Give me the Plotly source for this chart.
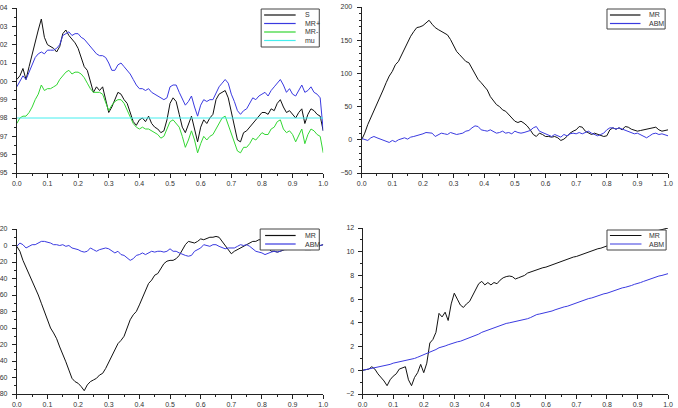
import numpy as np
import plotly.graph_objects as go

T = np.linspace(0, 1, 101)

S = [100.1, 100.3, 100.7, 100.1, 100.8, 101.5, 102.2, 102.8, 103.4, 102.4,
     102.0, 101.9, 101.8, 101.6, 101.9, 102.6, 102.8, 102.5, 102.3, 102.1,
     101.8, 101.3, 100.8, 100.6, 100.0, 99.4, 99.7, 99.5, 99.7, 99.0,
     98.3, 98.6, 99.0, 99.4, 99.3, 99.0, 98.8, 98.3, 97.8, 97.6,
     97.9, 98.0, 97.8, 98.1, 97.7, 97.5, 97.4, 97.2, 97.3, 97.9,
     98.8, 99.1, 98.9, 98.2, 97.5, 97.2, 97.6, 98.1, 97.4, 96.7,
     97.5, 97.9, 97.7, 98.0, 98.2, 99.0, 99.3, 99.4, 99.5, 99.1,
     98.3, 97.5, 96.8, 96.7, 97.2, 97.3, 97.5, 97.7, 97.9, 98.1,
     98.3, 98.3, 98.2, 98.5, 98.4, 98.8, 99.0, 98.6, 98.3, 98.4,
     98.2, 98.0, 98.3, 98.5, 97.7, 98.2, 98.5, 98.4, 98.2, 98.1,
     97.3]
MR_PLUS = [99.7, 100.0, 100.3, 100.1, 100.5, 100.9, 101.3, 101.5, 101.6, 101.5,
           101.7, 101.7, 101.7, 101.8, 102.0, 102.5, 102.6, 102.7, 102.5, 102.6,
           102.6, 102.4, 102.3, 102.1, 101.9, 101.7, 101.5, 101.4, 101.4, 101.3,
           101.0, 100.6, 100.6, 100.9, 101.0, 100.8, 100.6, 100.4, 100.1, 99.8,
           99.6, 99.6, 99.5, 99.6, 99.4, 99.3, 99.2, 99.1, 99.0, 99.1,
           99.7, 99.8, 99.8, 99.4, 99.0, 98.7, 98.9, 99.2, 98.6, 98.1,
           98.7, 99.0, 98.9, 99.0, 99.0, 99.4, 99.7, 99.9, 100.1, 99.9,
           99.3, 98.9, 98.4, 98.2, 98.4, 98.5, 98.8, 99.1, 99.0, 99.2,
           99.3, 99.4, 99.2, 99.5, 99.7, 99.9, 100.1, 99.8, 99.4, 99.6,
           99.3, 99.2, 99.5, 99.8, 99.4, 99.5, 99.7, 99.4, 99.3, 99.1,
           97.3]
MR_MINUS = [97.7, 98.0, 98.1, 98.1, 98.3, 98.6, 99.0, 99.3, 99.8, 99.5,
            99.6, 99.6, 99.7, 99.8, 100.1, 100.3, 100.5, 100.6, 100.4, 100.5,
            100.5, 100.4, 100.2, 99.9, 99.6, 99.4, 99.4, 99.4, 99.3, 98.9,
            98.4, 98.7, 98.9, 99.0, 99.0, 98.8, 98.4, 98.1, 97.7, 97.5,
            97.4, 97.5, 97.4, 97.4, 97.3, 97.2, 97.1, 96.9, 97.0, 97.4,
            97.8, 97.9, 97.7, 97.5, 97.0, 96.4, 96.8, 97.3, 96.8, 96.1,
            96.6, 97.0, 96.8, 97.0, 97.1, 97.4, 97.7, 98.0, 98.1, 97.6,
            97.2, 96.7, 96.2, 96.1, 96.4, 96.4, 96.6, 96.9, 96.8, 97.0,
            97.2, 97.1, 97.1, 97.4, 97.5, 97.8, 97.9, 97.4, 97.2, 97.3,
            97.1, 96.7, 97.1, 97.4, 96.6, 97.1, 97.4, 97.3, 97.1, 97.0,
            96.1]
MU_T = [0.0, 1.0]
MU = [98.0, 98.0]

MR2 = [0, 10, 23, 33, 43, 55, 65, 75, 86, 96,
       103, 113, 118, 128, 138, 148, 156, 163, 169, 170,
       172, 176, 180, 174, 169, 166, 163, 161, 158, 151,
       143, 133, 128, 123, 118, 116, 108, 98, 91, 86,
       80, 75, 65, 58, 53, 50, 45, 43, 38, 33,
       28, 26, 28, 25, 21, 15, 8, 5, 10, 8,
       5, 5, 4, 5, 3, -1, 1, 5, 10, 13,
       15, 20, 19, 13, 11, 8, 10, 8, 6, 5,
       6, 15, 18, 16, 18, 15, 20, 19, 16, 14,
       13, 14, 15, 15, 16, 18, 19, 15, 13, 14,
       15]
ABM2 = [2, 0, -1, 3, 5, 3, 1, 0, -3, -4,
        -1, -3, 0, 1, 3, 1, 4, 5, 6, 8,
        9, 11, 10, 10, 5, 8, 10, 9, 8, 11,
        9, 8, 9, 10, 13, 14, 18, 21, 20, 15,
        14, 13, 15, 13, 10, 11, 13, 10, 11, 9,
        13, 11, 10, 11, 13, 14, 18, 20, 13, 11,
        9, 6, 5, 8, 6, 4, 8, 6, 9, 10,
        9, 11, 9, 11, 13, 10, 8, 6, 8, 10,
        15, 18, 18, 16, 18, 16, 14, 13, 11, 9,
        10, 8, 5, 3, 6, 9, 10, 8, 9, 8,
        6]

MR3 = [-1, -7, -18, -26, -34, -42, -52, -60, -70, -80,
       -90, -100, -106, -113, -123, -131, -141, -151, -161, -165,
       -167, -171, -176, -169, -165, -163, -161, -157, -155, -149,
       -141, -133, -125, -119, -115, -110, -100, -90, -84, -80,
       -72, -64, -56, -46, -42, -36, -34, -28, -22, -19,
       -18, -18, -16, -12, -6, 1, 5, 4, 3, 5,
       8, 7, 9, 10, 10, 11, 10, 5, -1, -5,
       -10, -7, -5, -3, -1, 1, 3, 5, 5, 7,
       7, -1, -3, -7, -7, -8, -7, -5, -4, -3,
       -4, -3, -3, -3, -5, -5, -5, -3, -1, 0,
       1]
ABM3 = [-1, 3, 1, -3, -1, 1, 1, 3, 5, 5,
        4, 3, 1, 1, 0, 1, -1, 0, -3, -4,
        -5, -7, -8, -7, -3, -5, -7, -5, -4, -3,
        -4, -7, -9, -7, -11, -12, -15, -18, -16, -12,
        -11, -9, -11, -9, -7, -8, -7, -7, -8, -7,
        -4, -7, -7, -9, -11, -12, -13, -12, -7, -5,
        -3, 1, 0, -1, 1, 1, -1, -3, -4, -3,
        -3, -3, -1, 1, 0, 1, -1, -4, -7, -8,
        -9, -11, -9, -8, -7, -8, -7, -5, -5, -3,
        -3, -3, -1, -3, -1, 0, -1, 0, 1, 0,
        1]

MR4 = [0, 0.05, 0.1, 0.3, 0.1, -0.3, -0.6, -0.9, -1.3, -0.8,
       -0.5, -0.3, 0.1, 0.2, 0.3, -0.8, -1.3, -0.6, -0.2, 0.5,
       -0.2, 0.6, 2.3, 2.6, 3.2, 4.8, 4.5, 4.9, 4.2, 5.6,
       6.5, 6.0, 5.5, 5.3, 5.6, 5.8, 6.3, 6.8, 7.3, 7.5,
       7.2, 7.4, 7.2, 7.4, 7.3, 7.6, 7.8, 7.9, 7.95, 7.9,
       7.7, 7.8, 7.9, 8.0, 8.2, 8.3, 8.4, 8.5, 8.6, 8.65,
       8.7, 8.8, 8.9, 9.0, 9.1, 9.2, 9.3, 9.4, 9.5, 9.55,
       9.6, 9.7, 9.8, 9.9, 10.0, 10.1, 10.2, 10.25, 10.3, 10.4,
       10.5, 10.6, 10.7, 10.8, 10.9, 11.0, 11.05, 11.1, 11.2, 11.3,
       11.35, 11.4, 11.5, 11.55, 11.6, 11.7, 11.75, 11.8, 11.85, 11.9,
       12.0]
ABM4 = [0, 0.05, 0.1, 0.15, 0.2, 0.3, 0.35, 0.4, 0.45, 0.5,
        0.6, 0.65, 0.7, 0.75, 0.8, 0.9, 0.95, 1.0, 1.1, 1.2,
        1.3, 1.4, 1.5, 1.6, 1.75, 1.9, 1.95, 2.05, 2.15, 2.25,
        2.3, 2.4, 2.45, 2.55, 2.6, 2.7, 2.8, 2.95, 3.05, 3.2,
        3.3, 3.4, 3.5, 3.6, 3.7, 3.8, 3.9, 3.95, 4.0, 4.05,
        4.1, 4.15, 4.2, 4.3, 4.35, 4.45, 4.6, 4.7, 4.75, 4.8,
        4.9, 4.95, 5.0, 5.1, 5.2, 5.3, 5.35, 5.4, 5.5, 5.6,
        5.7, 5.8, 5.85, 5.95, 6.05, 6.1, 6.2, 6.25, 6.35, 6.45,
        6.5, 6.6, 6.65, 6.75, 6.85, 6.95, 7.0, 7.05, 7.15, 7.25,
        7.3, 7.4, 7.5, 7.6, 7.65, 7.75, 7.85, 7.95, 8.0, 8.1,
        8.15]

BLACK = "#111111"
BLUE = "#3a3ae0"
GREEN = "#33d633"
CYAN = "#44eeee"

W, H = 678, 408
fig = go.Figure()

def tr(x, y, name, color, xa, ya):
    fig.add_trace(go.Scatter(x=x, y=y, name=name, mode="lines",
                             line=dict(color=color, width=1),
                             xaxis=xa, yaxis=ya, showlegend=False))

tr(T, S, "S", BLACK, "x", "y")
tr(T, MR_PLUS, "MR+", BLUE, "x", "y")
tr(T, MR_MINUS, "MR-", GREEN, "x", "y")
tr(MU_T, MU, "mu", CYAN, "x", "y")
tr(T, MR2, "MR", BLACK, "x2", "y2")
tr(T, ABM2, "ABM", BLUE, "x2", "y2")
tr(T, MR3, "MR", BLACK, "x3", "y3")
tr(T, ABM3, "ABM", BLUE, "x3", "y3")
tr(T, MR4, "MR", BLACK, "x4", "y4")
tr(T, ABM4, "ABM", BLUE, "x4", "y4")

FONT = dict(family="Liberation Sans, Arial, sans-serif", size=7, color="#333333")

def xax(l, r, anchor):
    return dict(domain=[l / W, r / W], anchor=anchor, range=[0, 1],
                dtick=0.1, tick0=0, tickformat=".1f", showgrid=False,
                zeroline=False, showline=True, linecolor="#222", linewidth=1,
                ticks="outside", ticklen=4, tickcolor="#222", tickfont=FONT,
                minor=dict(ticks="outside", ticklen=2, dtick=0.05, tickcolor="#222"))

def yax(t, b, anchor, rng, dt, mdt, stand):
    return dict(domain=[1 - b / H, 1 - t / H], anchor=anchor, range=rng,
                dtick=dt, tick0=0, showgrid=False, zeroline=False,
                showline=True, linecolor="#222", linewidth=1,
                ticks="outside", ticklen=4, tickcolor="#222", tickfont=FONT,
                ticklabelstandoff=stand, automargin=False,
                minor=dict(ticks="outside", ticklen=2, dtick=mdt, tickcolor="#222"))

fig.update_layout(
    width=W, height=H, margin=dict(l=0, r=0, t=0, b=0),
    paper_bgcolor="white", plot_bgcolor="white", showlegend=False,
    xaxis=xax(12, 323, "y"), yaxis=yax(8, 173, "x", [95, 104], 1, 0.5, 3),
    xaxis2=xax(362, 673, "y2"), yaxis2=yax(7, 173, "x2", [-50, 200], 50, 10, 3),
    xaxis3=xax(12, 323, "y3"), yaxis3=yax(229, 394, "x3", [-180, 20], 20, 10, 3),
    xaxis4=xax(363, 673, "y4"), yaxis4=yax(228, 394, "x4", [-2, 12], 2, 1, 2),
)

# hand-drawn compact legends (box, line samples, labels) in pixel layout
LEGENDS = [
    dict(box=(260, 9, 319, 47), lx=(263, 295), tx=302,
         items=[("S", BLACK, 15), ("MR+", BLUE, 23.5), ("MR-", GREEN, 32), ("mu", CYAN, 40.5)]),
    dict(box=(611, 9, 670, 29), lx=(614, 645), tx=652,
         items=[("MR", BLACK, 15), ("ABM", BLUE, 23.5)]),
    dict(box=(259, 229, 319, 250), lx=(264, 295), tx=302,
         items=[("MR", BLACK, 235.5), ("ABM", BLUE, 244)]),
    dict(box=(611, 230, 671, 250), lx=(614, 646), tx=652,
         items=[("MR", BLACK, 235.5), ("ABM", BLUE, 244)]),
]

def px(x):
    return x / W

def py(y):
    return 1 - y / H

for lg in LEGENDS:
    x0, y0, x1, y1 = lg["box"]
    fig.add_shape(type="rect", xref="paper", yref="paper",
                  x0=px(x0), x1=px(x1), y0=py(y1), y1=py(y0),
                  fillcolor="white", line=dict(color="#444", width=1), layer="above")
    for name, col, yy in lg["items"]:
        fig.add_shape(type="line", xref="paper", yref="paper",
                      x0=px(lg["lx"][0]), x1=px(lg["lx"][1]), y0=py(yy), y1=py(yy),
                      line=dict(color=col, width=1.2), layer="above")
        fig.add_annotation(xref="paper", yref="paper", x=px(lg["tx"]), y=py(yy),
                           text=name, showarrow=False, xanchor="left", yanchor="middle",
                           font=dict(family="Liberation Sans, Arial, sans-serif", size=7, color="#333"))

fig.write_html("out.html")
